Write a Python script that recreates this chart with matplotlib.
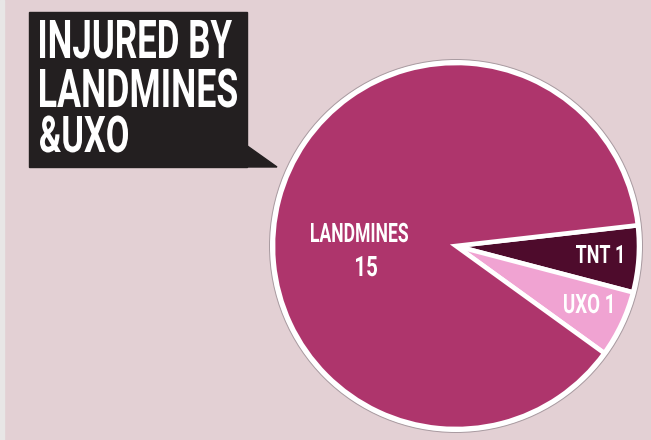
import matplotlib
matplotlib.use("Agg")
import matplotlib.pyplot as plt
from matplotlib.patches import Rectangle, Polygon, Circle, PathPatch
from matplotlib.textpath import TextPath
from matplotlib.font_manager import FontProperties
from matplotlib.transforms import Affine2D

# donnees du camembert (blesses par mines et UXO)
categories = ["TNT", "UXO", "LANDMINES"]
values = [1, 1, 15]
colors = ["#4e0b2c", "#f0a3d2", "#ae356c"]

title_lines = ["INJURED BY", "LANDMINES", "&UXO"]

W, H = 651, 440
fig = plt.figure(figsize=(W / 100, H / 100), dpi=100)
fig.patch.set_facecolor("#e3d0d4")
ax = fig.add_axes([0, 0, 1, 1])

# petite bande grise a gauche
ax.add_patch(Rectangle((0, 0), 4, H, color="#e8e6e6", zorder=0))

# camembert
cx, cy = 456, H - 246
ax.pie(values, colors=colors, startangle=6.5, counterclock=False,
       center=(cx, cy), radius=183, frame=True,
       wedgeprops=dict(edgecolor="white", linewidth=3.3))
ax.add_patch(Circle((cx, cy), 184, fill=False, ec="white", lw=3.4, zorder=3))
ax.add_patch(Circle((cx, cy), 186.5, fill=False, ec="#a89aa0", lw=0.7, zorder=3))

fp = FontProperties(family=["Liberation Sans Narrow", "Roboto", "DejaVu Sans"], weight="bold")
capH = TextPath((0, 0), "H", size=100, prop=fp).get_extents().height


# texte condense : largeur et hauteur de capitale imposees
def condensed(s, x0, x1, base, cap, color="white"):
    tp = TextPath((0, 0), s, size=100, prop=fp)
    ext = tp.get_extents()
    sx = (x1 - x0) / ext.width
    sy = cap / capH
    tr = Affine2D().translate(-ext.x0, 0).scale(sx, sy).translate(x0, H - base)
    ax.add_patch(PathPatch(tr.transform_path(tp), fc=color, ec="none", zorder=5))


# bulle du titre
ax.add_patch(Rectangle((29, H - 167), 218, 155, color="#231f20", zorder=4))
ax.add_patch(Polygon([(246, H - 145), (277, H - 167), (246, H - 167)],
                     closed=True, color="#231f20", zorder=4))
condensed(title_lines[0], 40, 232, 58, 38)
condensed(title_lines[1], 40, 237, 107, 38)
condensed(title_lines[2], 40, 128, 152, 36)

# etiquettes
condensed(categories[2], 311, 408, 242, 19)
condensed(str(values[2]), 356, 377, 276, 20)
condensed(f"{categories[0]} {values[0]}", 576, 622, 263, 18)
condensed(f"{categories[1]} {values[1]}", 564, 612, 313, 19)

ax.set_xlim(0, W)
ax.set_ylim(0, H)
ax.axis("off")

fig.savefig("out.png", dpi=100, facecolor=fig.get_facecolor())
